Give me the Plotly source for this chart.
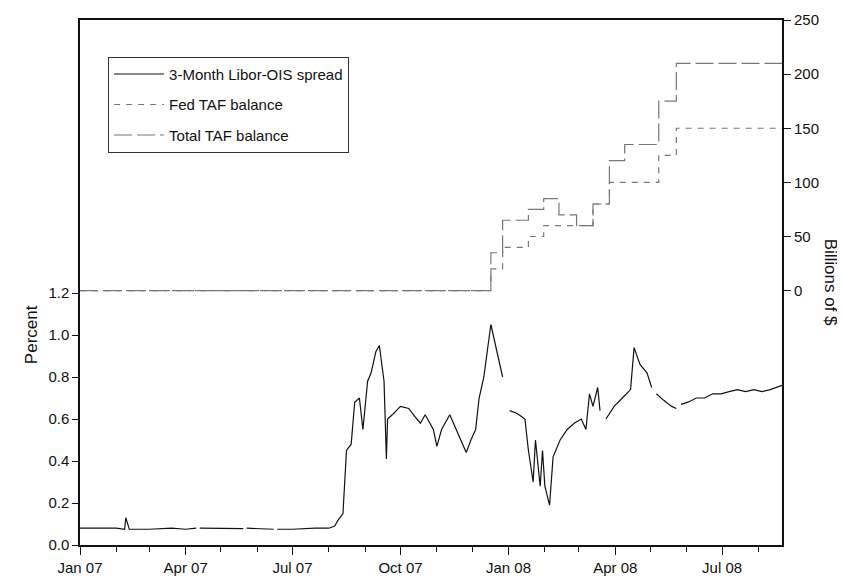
import plotly.graph_objects as go

libor_dates = ["2007-01-01","2007-01-15","2007-02-01","2007-02-08","2007-02-09","2007-02-12","2007-03-01","2007-03-20","2007-04-01","2007-04-10",None,
"2007-04-13","2007-05-01","2007-05-20",None,"2007-05-23","2007-06-15",None,"2007-06-18","2007-07-01","2007-07-20","2007-08-01","2007-08-06","2007-08-09","2007-08-13","2007-08-16","2007-08-20","2007-08-23","2007-08-27","2007-08-30","2007-09-03","2007-09-06","2007-09-10","2007-09-13","2007-09-17","2007-09-19","2007-09-20","2007-09-24","2007-10-01","2007-10-08","2007-10-15","2007-10-18","2007-10-22","2007-10-29","2007-11-01","2007-11-05","2007-11-12","2007-11-15","2007-11-20","2007-11-26","2007-11-30","2007-12-04","2007-12-07","2007-12-11","2007-12-17","2007-12-21","2007-12-27",None,
"2008-01-02","2008-01-07","2008-01-10","2008-01-15","2008-01-18","2008-01-22","2008-01-24","2008-01-28","2008-01-30","2008-02-01","2008-02-05","2008-02-08","2008-02-14","2008-02-20","2008-02-26","2008-03-03","2008-03-07","2008-03-10","2008-03-13","2008-03-17","2008-03-19",None,
"2008-03-24","2008-03-31","2008-04-07","2008-04-14","2008-04-17","2008-04-22","2008-04-28","2008-05-02",None,
"2008-05-06","2008-05-12","2008-05-19","2008-05-23",None,"2008-05-27","2008-06-02","2008-06-09","2008-06-16","2008-06-23","2008-06-30","2008-07-07","2008-07-14","2008-07-21","2008-07-28","2008-08-04","2008-08-11","2008-08-21"]
libor_vals = [0.08,0.08,0.08,0.075,0.13,0.075,0.075,0.08,0.075,0.08,None,
0.08,0.08,0.078,None,0.08,0.075,None,0.075,0.075,0.08,0.08,0.09,0.12,0.15,0.45,0.48,0.68,0.7,0.55,0.78,0.82,0.92,0.95,0.78,0.41,0.6,0.62,0.66,0.65,0.6,0.58,0.62,0.55,0.47,0.55,0.62,0.58,0.52,0.44,0.5,0.55,0.7,0.8,1.05,0.95,0.8,None,
0.64,0.63,0.62,0.6,0.45,0.3,0.5,0.28,0.45,0.28,0.19,0.42,0.5,0.55,0.58,0.6,0.55,0.72,0.66,0.75,0.64,None,
0.6,0.66,0.7,0.74,0.94,0.86,0.82,0.75,None,
0.72,0.69,0.66,0.65,None,0.67,0.68,0.7,0.7,0.72,0.72,0.73,0.74,0.73,0.74,0.73,0.74,0.76]

taf_dates = ["2007-01-01","2007-12-17","2007-12-27","2008-01-18","2008-01-31","2008-02-13","2008-02-28","2008-03-13","2008-03-27","2008-04-09","2008-05-08","2008-05-23","2008-08-21"]
fed_taf = [0,20,40,50,60,60,60,80,100,100,125,150,150]
total_taf = [0,35,65,75,85,70,60,80,120,135,175,210,210]

fig = go.Figure()
fig.add_trace(go.Scatter(x=libor_dates, y=libor_vals, mode="lines", name="3-Month Libor-OIS spread",
                         legendgroup="a", line=dict(color="#111", width=1.2), connectgaps=False))
fig.add_trace(go.Scatter(x=taf_dates, y=fed_taf, mode="lines", name="Fed TAF balance", yaxis="y2",
                         legendgroup="b", line=dict(color="#777", width=1.2, dash="6px,6px", shape="hv")))
fig.add_trace(go.Scatter(x=taf_dates, y=total_taf, mode="lines", name="Total TAF balance", yaxis="y2",
                         legendgroup="c", line=dict(color="#777", width=1.2, dash="18px,5px", shape="hv")))

font = dict(family="Liberation Sans, Arial, sans-serif", size=15, color="#111")
fig.update_layout(
    width=845, height=583, margin=dict(l=72, r=71, t=12, b=46),
    paper_bgcolor="white", plot_bgcolor="white", font=font,
    showlegend=True,
    legend=dict(x=0.04, y=0.93, xanchor="left", yanchor="top", bordercolor="#333", borderwidth=1,
                bgcolor="white", font=dict(size=15), tracegroupgap=8, traceorder="grouped",
                itemwidth=50),
    xaxis=dict(range=["2007-01-01","2008-08-21"], tickvals=["2007-01-01","2007-04-01","2007-07-01","2007-10-01","2008-01-01","2008-04-01","2008-07-01"],
               ticktext=["Jan 07","Apr 07","Jul 07","Oct 07","Jan 08","Apr 08","Jul 08"],
               ticks="outside", ticklen=8, tickcolor="#111", showline=True, linecolor="#111", linewidth=1.5,
               mirror=True, showgrid=False, zeroline=False, automargin=False,
               minor=dict(dtick="M1", tick0="2007-01-01", ticks="outside", ticklen=5, tickcolor="#111")),
    yaxis=dict(range=[0, 2.5], tickvals=[0,0.2,0.4,0.6,0.8,1.0,1.2], ticktext=["0.0","0.2","0.4","0.6","0.8","1.0","1.2"],
               ticks="outside", ticklen=6, tickcolor="#111", showline=True, linecolor="#111", linewidth=1.5,
               mirror=True, showgrid=False, zeroline=False, automargin=False),
    yaxis2=dict(overlaying="y", side="right", range=[-235, 250], tickvals=[0,50,100,150,200,250],
                ticks="outside", ticklen=8, tickcolor="#111", showgrid=False, zeroline=False, showline=False,
                automargin=False),
)
fig.add_annotation(text="Percent", xref="paper", yref="y", x=-0.086, y=1.0, textangle=-90,
                   showarrow=False, font=dict(size=17))
fig.add_annotation(text="Billions of $", xref="paper", yref="paper", x=1.086, y=0.5, textangle=90,
                   showarrow=False, font=dict(size=17))
fig.write_html("out.html")
